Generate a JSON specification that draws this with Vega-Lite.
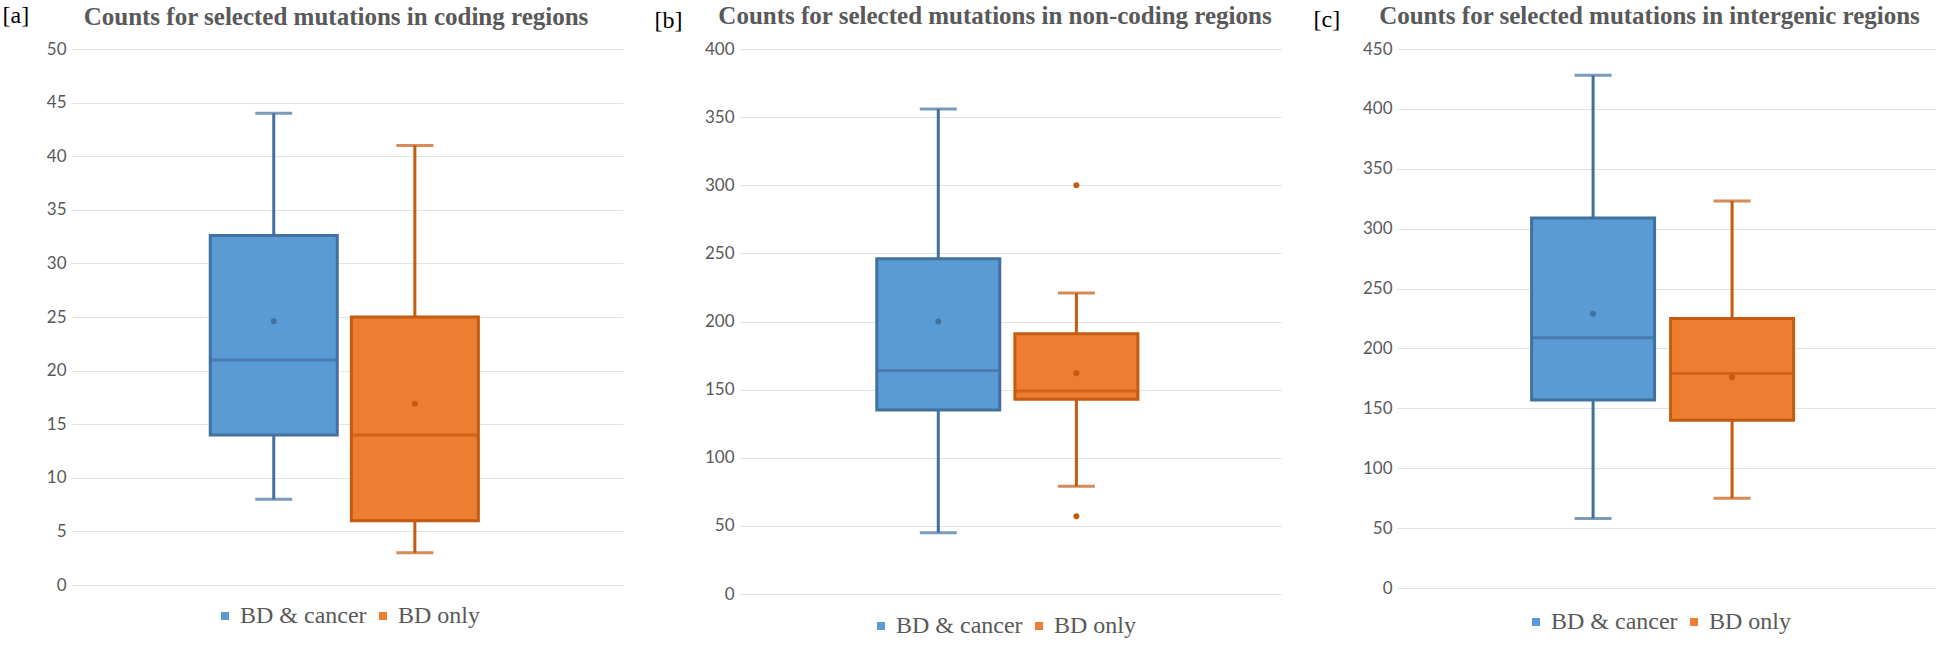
{
  "$schema": "https://vega.github.io/schema/vega-lite/v6.json",
  "padding": {"left": 2, "top": 3, "right": 0, "bottom": 0},
  "background": "#ffffff",
  "datasets": {
    "stats": [
      {"panel": "a", "group": "BD & cancer", "low": 8, "q1": 14, "median": 21, "q3": 32.6, "high": 44, "mean": 24.6},
      {"panel": "a", "group": "BD only", "low": 3, "q1": 6, "median": 14, "q3": 25, "high": 41, "mean": 16.9},
      {"panel": "b", "group": "BD & cancer", "low": 45, "q1": 135, "median": 164, "q3": 246, "high": 356, "mean": 200},
      {"panel": "b", "group": "BD only", "low": 79, "q1": 143, "median": 149, "q3": 191, "high": 221, "mean": 162},
      {"panel": "c", "group": "BD & cancer", "low": 58, "q1": 157, "median": 209, "q3": 309, "high": 428, "mean": 229},
      {"panel": "c", "group": "BD only", "low": 75, "q1": 140, "median": 179, "q3": 225, "high": 323, "mean": 176}
    ],
    "outliers": [
      {"panel": "b", "group": "BD only", "value": 300},
      {"panel": "b", "group": "BD only", "value": 57}
    ]
  },
  "hconcat": [
    {
      "width": 552,
      "height": 536,
      "title": {"text": "Counts for selected mutations in coding regions", "dx": -11, "offset": -27},
      "data": {"name": "stats"},
      "transform": [{"filter": "datum.panel === 'a'"}],
      "encoding": {
        "x": {"field": "group", "type": "nominal", "scale": {"domain": ["BD & cancer", "BD only"], "paddingInner": 0, "paddingOuter": 0.956, "align": 0.49}, "axis": null}
      },
      "layer": [
        {
          "mark": {"type": "rule", "strokeWidth": 3},
          "encoding": {
            "y": {"field": "low", "type": "quantitative", "title": "[a]", "scale": {"domain": [0, 50], "nice": false, "zero": true}, "axis": {"values": [0, 5, 10, 15, 20, 25, 30, 35, 40, 45, 50], "titleX": -69, "titleY": -46}},
            "y2": {"field": "high"},
            "color": {"condition": {"test": "datum.group === 'BD & cancer'", "value": "#41719C"}, "value": "#C55A11"}
          }
        },
        {
          "mark": {"type": "bar", "width": 127, "strokeWidth": 0},
          "encoding": {
            "y": {"field": "q1", "type": "quantitative", "title": "[a]"},
            "y2": {"field": "q3"},
            "color": {"field": "group", "type": "nominal", "scale": {"domain": ["BD & cancer", "BD only"], "range": ["#5B9BD5", "#ED7D31"]}, "legend": {"orient": "none", "legendX": 142, "legendY": 555, "direction": "horizontal", "title": null, "symbolType": "square", "symbolSize": 64, "columnPadding": 4, "labelOffset": 3, "encode": {"labels": {"update": {"font": {"value": "Liberation Serif"}, "fontSize": {"value": 24}, "fill": {"value": "#595959"}}}}}}
          }
        },
        {
          "mark": {"type": "bar", "width": 127, "filled": false, "strokeWidth": 3},
          "encoding": {
            "y": {"field": "q1", "type": "quantitative", "title": "[a]"},
            "y2": {"field": "q3"},
            "stroke": {"condition": {"test": "datum.group === 'BD & cancer'", "value": "#41719C"}, "value": "#C55A11"}
          }
        },
        {
          "mark": {"type": "tick", "size": 127, "thickness": 3},
          "encoding": {"y": {"field": "median", "type": "quantitative", "title": "[a]"}, "color": {"condition": {"test": "datum.group === 'BD & cancer'", "value": "#41719C"}, "value": "#C55A11"}}
        },
        {
          "mark": {"type": "tick", "size": 37, "thickness": 3},
          "encoding": {"y": {"field": "high", "type": "quantitative", "title": "[a]"}, "color": {"condition": {"test": "datum.group === 'BD & cancer'", "value": "#41719C"}, "value": "#C55A11"}}
        },
        {
          "mark": {"type": "tick", "size": 37, "thickness": 3},
          "encoding": {"y": {"field": "low", "type": "quantitative", "title": "[a]"}, "color": {"condition": {"test": "datum.group === 'BD & cancer'", "value": "#41719C"}, "value": "#C55A11"}}
        },
        {
          "mark": {"type": "circle", "size": 36, "opacity": 1},
          "encoding": {"y": {"field": "mean", "type": "quantitative", "title": "[a]"}, "color": {"condition": {"test": "datum.group === 'BD & cancer'", "value": "#41719C"}, "value": "#C55A11"}}
        }
      ]
    },
    {
      "width": 542,
      "height": 545,
      "title": {"text": "Counts for selected mutations in non-coding regions", "dx": -15, "offset": -21},
      "data": {"name": "stats"},
      "transform": [{"filter": "datum.panel === 'b'"}],
      "encoding": {
        "x": {"field": "group", "type": "nominal", "scale": {"domain": ["BD & cancer", "BD only"], "paddingInner": 0, "paddingOuter": 0.962, "align": 0.49}, "axis": null}
      },
      "layer": [
        {
          "mark": {"type": "rule", "strokeWidth": 3},
          "encoding": {
            "y": {"field": "low", "type": "quantitative", "title": "[b]", "scale": {"domain": [0, 400], "nice": false, "zero": true}, "axis": {"values": [0, 50, 100, 150, 200, 250, 300, 350, 400], "titleX": -85, "titleY": -41}},
            "y2": {"field": "high"},
            "color": {"condition": {"test": "datum.group === 'BD & cancer'", "value": "#41719C"}, "value": "#C55A11"}
          }
        },
        {
          "mark": {"type": "bar", "width": 123, "strokeWidth": 0},
          "encoding": {
            "y": {"field": "q1", "type": "quantitative", "title": "[b]"},
            "y2": {"field": "q3"},
            "color": {"field": "group", "type": "nominal", "scale": {"domain": ["BD & cancer", "BD only"], "range": ["#5B9BD5", "#ED7D31"]}, "legend": {"orient": "none", "legendX": 130, "legendY": 565, "direction": "horizontal", "title": null, "symbolType": "square", "symbolSize": 64, "columnPadding": 4, "labelOffset": 3, "encode": {"labels": {"update": {"font": {"value": "Liberation Serif"}, "fontSize": {"value": 24}, "fill": {"value": "#595959"}}}}}}
          }
        },
        {
          "mark": {"type": "bar", "width": 123, "filled": false, "strokeWidth": 3},
          "encoding": {
            "y": {"field": "q1", "type": "quantitative", "title": "[b]"},
            "y2": {"field": "q3"},
            "stroke": {"condition": {"test": "datum.group === 'BD & cancer'", "value": "#41719C"}, "value": "#C55A11"}
          }
        },
        {
          "mark": {"type": "tick", "size": 123, "thickness": 3},
          "encoding": {"y": {"field": "median", "type": "quantitative", "title": "[b]"}, "color": {"condition": {"test": "datum.group === 'BD & cancer'", "value": "#41719C"}, "value": "#C55A11"}}
        },
        {
          "mark": {"type": "tick", "size": 37, "thickness": 3},
          "encoding": {"y": {"field": "high", "type": "quantitative", "title": "[b]"}, "color": {"condition": {"test": "datum.group === 'BD & cancer'", "value": "#41719C"}, "value": "#C55A11"}}
        },
        {
          "mark": {"type": "tick", "size": 37, "thickness": 3},
          "encoding": {"y": {"field": "low", "type": "quantitative", "title": "[b]"}, "color": {"condition": {"test": "datum.group === 'BD & cancer'", "value": "#41719C"}, "value": "#C55A11"}}
        },
        {
          "mark": {"type": "circle", "size": 36, "opacity": 1},
          "encoding": {"y": {"field": "mean", "type": "quantitative", "title": "[b]"}, "color": {"condition": {"test": "datum.group === 'BD & cancer'", "value": "#41719C"}, "value": "#C55A11"}}
        },
        {
          "data": {"name": "outliers"},
          "transform": [{"filter": "datum.panel === 'b'"}],
          "mark": {"type": "circle", "size": 36, "opacity": 1},
          "encoding": {"y": {"field": "value", "type": "quantitative", "title": "[b]"}, "color": {"condition": {"test": "datum.group === 'BD & cancer'", "value": "#41719C"}, "value": "#C55A11"}}
        }
      ]
    },
    {
      "width": 539,
      "height": 539,
      "title": {"text": "Counts for selected mutations in intergenic regions", "dx": -17, "offset": -22},
      "data": {"name": "stats"},
      "transform": [{"filter": "datum.panel === 'c'"}],
      "encoding": {
        "x": {"field": "group", "type": "nominal", "scale": {"domain": ["BD & cancer", "BD only"], "paddingInner": 0, "paddingOuter": 0.939, "align": 0.485}, "axis": null}
      },
      "layer": [
        {
          "mark": {"type": "rule", "strokeWidth": 3},
          "encoding": {
            "y": {"field": "low", "type": "quantitative", "title": "[c]", "scale": {"domain": [0, 450], "nice": false, "zero": true}, "axis": {"values": [0, 50, 100, 150, 200, 250, 300, 350, 400, 450], "titleX": -84, "titleY": -42}},
            "y2": {"field": "high"},
            "color": {"condition": {"test": "datum.group === 'BD & cancer'", "value": "#41719C"}, "value": "#C55A11"}
          }
        },
        {
          "mark": {"type": "bar", "width": 123, "strokeWidth": 0},
          "encoding": {
            "y": {"field": "q1", "type": "quantitative", "title": "[c]"},
            "y2": {"field": "q3"},
            "color": {"field": "group", "type": "nominal", "scale": {"domain": ["BD & cancer", "BD only"], "range": ["#5B9BD5", "#ED7D31"]}, "legend": {"orient": "none", "legendX": 127, "legendY": 561, "direction": "horizontal", "title": null, "symbolType": "square", "symbolSize": 64, "columnPadding": 4, "labelOffset": 3, "encode": {"labels": {"update": {"font": {"value": "Liberation Serif"}, "fontSize": {"value": 24}, "fill": {"value": "#595959"}}}}}}
          }
        },
        {
          "mark": {"type": "bar", "width": 123, "filled": false, "strokeWidth": 3},
          "encoding": {
            "y": {"field": "q1", "type": "quantitative", "title": "[c]"},
            "y2": {"field": "q3"},
            "stroke": {"condition": {"test": "datum.group === 'BD & cancer'", "value": "#41719C"}, "value": "#C55A11"}
          }
        },
        {
          "mark": {"type": "tick", "size": 123, "thickness": 3},
          "encoding": {"y": {"field": "median", "type": "quantitative", "title": "[c]"}, "color": {"condition": {"test": "datum.group === 'BD & cancer'", "value": "#41719C"}, "value": "#C55A11"}}
        },
        {
          "mark": {"type": "tick", "size": 37, "thickness": 3},
          "encoding": {"y": {"field": "high", "type": "quantitative", "title": "[c]"}, "color": {"condition": {"test": "datum.group === 'BD & cancer'", "value": "#41719C"}, "value": "#C55A11"}}
        },
        {
          "mark": {"type": "tick", "size": 37, "thickness": 3},
          "encoding": {"y": {"field": "low", "type": "quantitative", "title": "[c]"}, "color": {"condition": {"test": "datum.group === 'BD & cancer'", "value": "#41719C"}, "value": "#C55A11"}}
        },
        {
          "mark": {"type": "circle", "size": 36, "opacity": 1},
          "encoding": {"y": {"field": "mean", "type": "quantitative", "title": "[c]"}, "color": {"condition": {"test": "datum.group === 'BD & cancer'", "value": "#41719C"}, "value": "#C55A11"}}
        }
      ]
    }
  ],
  "spacing": 116,
  "bounds": "flush",
  "resolve": {
    "scale": {"x": "independent", "y": "independent", "color": "independent"},
    "legend": {"color": "independent"},
    "axis": {"y": "independent"}
  },
  "config": {
    "view": {"stroke": null},
    "axis": {
      "domain": false, "ticks": false, "grid": true, "gridColor": "#e3e3e3", "gridWidth": 1,
      "labelFont": "Lato", "labelFontSize": 17, "labelColor": "#595959", "labelPadding": 5, "labelFlush": false,
      "titleFont": "Liberation Serif", "titleFontSize": 24, "titleFontWeight": "normal", "titleColor": "#000000",
      "titleAngle": 0, "titleAlign": "left", "titleBaseline": "top"
    },
    "title": {"font": "Liberation Serif", "fontSize": 25, "fontWeight": "bold", "color": "#595959", "anchor": "middle", "frame": "group", "baseline": "alphabetic"},
    "legend": {
      "labelFont": "Liberation Serif", "labelFontSize": 24, "labelColor": "#595959",
      "symbolType": "square", "symbolSize": 64, "symbolStrokeWidth": 0,
      "columnPadding": 4, "labelOffset": 3, "padding": 0
    }
  }
}
